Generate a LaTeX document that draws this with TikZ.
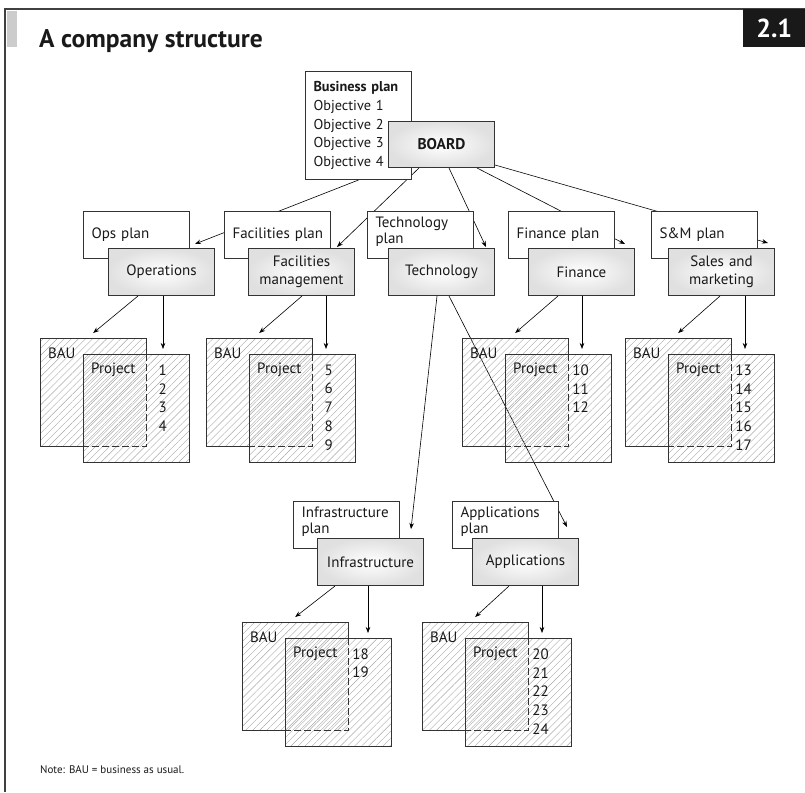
\documentclass[tikz,border=0pt]{standalone}
\usepackage{fontspec}
\setmainfont{PT Sans}
\usetikzlibrary{positioning,arrows.meta,patterns.meta,calc,backgrounds}

\begin{document}
\begin{tikzpicture}[
        x = 1pt,
        y = -1pt,
        every node/.append style={
          font = \fontsize{15}{18}\selectfont,
          text = black!90,
        },
        planbox/.style={
          draw = black!80, line width = 1pt, fill = white,
          minimum width = 106pt, minimum height = 47pt,
          text width = 90pt, inner xsep = 8pt, align = left,
          anchor = north west,
          font = \fontsize{15}{16}\selectfont,
        },
        twoline/.style={
          text depth = 25pt,
        },
        unitbox/.style={
          draw = black!80, line width = 1pt,
          inner color = white, outer color = black!12,
          minimum width = 106pt, minimum height = 47pt,
          text width = 96pt, inner xsep = 5pt, align = center,
          anchor = north west,
        },
        baubox/.style={
          minimum width = 106pt, minimum height = 108pt,
          anchor = north west, inner sep = 0pt,
          pattern = {Lines[angle=45, distance=5pt, line width=0.4pt]},
          pattern color = black!35,
        },
        projbox/.style={
          baubox,
          draw = black!80, line width = 1pt,
          pattern = {Lines[angle=45, distance=5pt, yshift=2.5pt, line width=0.4pt]},
        },
        outline/.style={
          draw = black!80, line width = 1pt,
        },
        tag/.style={
          anchor = west, inner sep = 0pt,
        },
        num/.style={
          anchor = east, inner sep = 0pt,
        },
        arr/.style={
          -{Stealth[length=6pt, width=4.5pt]},
          line width = 0.6pt,
        },
        ]
        \useasboundingbox (0,0) rectangle (805,792);

        \draw[black!75, line width = 1.3pt] (5,792) -- (5,9) -- (805,9);
        \fill[black!20] (7,11) rectangle (17,47);
        \node[anchor = base west, inner sep = 0pt,
          font = \bfseries\fontsize{25.5}{30}\selectfont] (title) at (39,48) {A company structure};
        \node[anchor = north west, fill = black!90, text = white,
          minimum width = 62pt, minimum height = 38pt,
          font = \bfseries\fontsize{26}{30}\selectfont] (fignum) at (743,9) {2.1};

        \node[planbox, minimum height = 108pt, font = \fontsize{14.3}{18.7}\selectfont]
          (bplan) at (305,71) {\textbf{Business plan}\\Objective 1\\Objective 2\\Objective 3\\Objective 4};
        \node[unitbox, minimum width = 105pt, minimum height = 46pt, font = \bfseries\fontsize{15.5}{18}\selectfont]
          (board) at (388,121) {BOARD};

        \node[planbox] (opsplan) at (83,211) {\mbox{Ops plan}};
        \node[planbox] (fmplan) at (224,211) {\mbox{Facilities plan}};
        \node[planbox, twoline] (techplan) at (367,211) {Technology\\plan};
        \node[planbox] (finplan) at (508,211) {\mbox{Finance plan}};
        \node[planbox] (smplan) at (651,211) {\mbox{S\&M plan}};
        \node[planbox, twoline] (infraplan) at (293,501) {Infrastructure\\plan};
        \node[planbox, twoline] (appsplan) at (452,501) {Applications\\plan};

        \node[unitbox] (ops) at (108,248) {Operations};
        \node[unitbox] (fm) at (248,248) {Facilities\\management};
        \node[unitbox] (tech) at (388,248) {Technology};
        \node[unitbox] (fin) at (528,248) {Finance};
        \node[unitbox] (sm) at (668,248) {Sales and\\marketing};
        \node[unitbox] (infra) at (317,538) {Infrastructure};
        \node[unitbox] (apps) at (472,538) {Applications};

        \foreach \uid/\dep/\bx/\by/\sx/\vx/\nums in {
            a/ops/40/338/30/55/{1,2,3,4},
            b/fm/206/338/54/78/{5,6,7,8,9},
            c/fin/462/338/30/54/{10,11,12},
            d/sm/625/338/52/77/{13,14,15,16,17},
            e/infra/242/622/18/51/{18,19},
            f/apps/422/622/37/70/{20,21,22,23,24}} {
          \node[baubox] (bau\uid) at (\bx,\by) {};
          \node[projbox] (proj\uid) at (\bx+43,\by+16) {};
          \draw[outline] (bau\uid.south -| proj\uid.west) -- (bau\uid.south west)
            -- (bau\uid.north west) -- (bau\uid.north east) -- (bau\uid.east |- proj\uid.north);
          \draw[outline, dash pattern = on 7pt off 3pt] (bau\uid.east |- proj\uid.north)
            -- (bau\uid.south east) -- (bau\uid.south -| proj\uid.west);
          \node[tag] (baulbl\uid) at ($(bau\uid.north west)+(8,15)$) {BAU};
          \node[tag] (projlbl\uid) at ($(proj\uid.north west)+(8,16)$) {Project};
          \foreach \n [count=\i from 0] in \nums {
            \node[num] (num\n) at (\bx+127,\by+32+18.7*\i) {\n};
          }
          \draw[arr] ($(\dep.south west)+(\sx,0)$) -- ($(bau\uid.north)+(0,-5)$);
          \coordinate (top\uid) at ($(\dep.south west)+(\vx,0)$);
          \draw[arr] (top\uid) -- ($(top\uid |- proj\uid.north)+(0,-5)$);
        }

        \begin{pgfonlayer}{background}
          \draw[arr] (bplan.south) -- ($(ops.north west)+(87,-4)$);
          \draw[arr] ($(board.south west)+(31,0)$) -- ($(fm.north west)+(89,-1)$);
          \draw[arr] ($(board.south west)+(61,0)$) -- ($(tech.north west)+(98,-1)$);
          \draw[arr] ($(board.south west)+(89,0)$) -- ($(fin.north west)+(97,-4)$);
          \draw[arr] ($(board.south east)+(0,-3)$) -- ($(sm.north west)+(100,-5)$);
          \draw[arr] ($(tech.south west)+(49,0)$) -- ($(infra.north west)+(94,-9)$);
          \draw[arr] ($(tech.south west)+(61,0)$) -- ($(apps.north west)+(95,-11)$);
        \end{pgfonlayer}

        \node[anchor = base west, inner sep = 0pt, font = \fontsize{11}{13}\selectfont]
          (note) at (40,773) {Note: BAU = business as usual.};
      \end{tikzpicture}
\end{document}
